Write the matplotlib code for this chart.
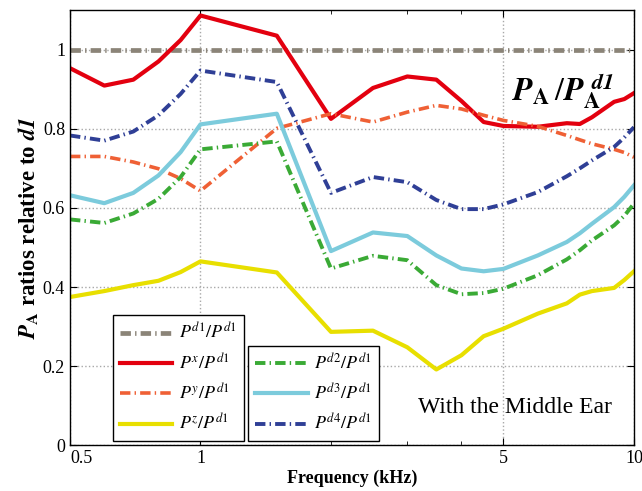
import numpy as np
import matplotlib
matplotlib.use('Agg')
import matplotlib.pyplot as plt

plt.rcParams['font.family'] = ['Liberation Serif', 'DejaVu Serif']
plt.rcParams['mathtext.fontset'] = 'stix'
plt.rcParams['lines.scale_dashes'] = False

# frecuencias en kHz
freq = [0.5, 0.6, 0.7, 0.8, 0.9, 1.0, 1.5, 2.0, 2.5, 3.0, 3.5, 4.0, 4.5, 5.0,
        6.0, 7.0, 7.5, 8.0, 9.0, 9.5, 10.0]

p_d1 = [1.0] * len(freq)
p_x = [0.953, 0.909, 0.924, 0.970, 1.024, 1.086, 1.035, 0.825, 0.903, 0.932, 0.924,
       0.870, 0.817, 0.807, 0.805, 0.814, 0.812, 0.829, 0.868, 0.875, 0.890]
p_y = [0.730, 0.730, 0.716, 0.699, 0.674, 0.643, 0.801, 0.838, 0.817, 0.842, 0.859,
       0.850, 0.834, 0.821, 0.806, 0.783, 0.772, 0.762, 0.748, 0.740, 0.728]
p_z = [0.375, 0.390, 0.405, 0.416, 0.438, 0.465, 0.437, 0.287, 0.290, 0.248, 0.192,
       0.228, 0.276, 0.295, 0.333, 0.359, 0.381, 0.390, 0.398, 0.418, 0.440]
p_d2 = [0.571, 0.562, 0.586, 0.623, 0.678, 0.748, 0.768, 0.447, 0.479, 0.468, 0.405,
        0.382, 0.385, 0.396, 0.430, 0.470, 0.493, 0.518, 0.556, 0.580, 0.611]
p_d3 = [0.632, 0.612, 0.638, 0.682, 0.741, 0.811, 0.838, 0.491, 0.538, 0.529, 0.480,
        0.447, 0.440, 0.446, 0.480, 0.514, 0.536, 0.560, 0.602, 0.628, 0.657]
p_d4 = [0.783, 0.770, 0.793, 0.834, 0.888, 0.947, 0.918, 0.638, 0.678, 0.665, 0.620,
        0.597, 0.597, 0.609, 0.640, 0.680, 0.700, 0.720, 0.754, 0.778, 0.804]

labels = [r'$P^{\mathit{d1}}/P^{\mathit{d1}}$', r'$P^{x}/P^{\mathit{d1}}$',
          r'$P^{y}/P^{\mathit{d1}}$', r'$P^{z}/P^{\mathit{d1}}$',
          r'$P^{\mathit{d2}}/P^{\mathit{d1}}$', r'$P^{\mathit{d3}}/P^{\mathit{d1}}$',
          r'$P^{\mathit{d4}}/P^{\mathit{d1}}$']

dashdot = (0, (7.5, 3.0, 1.0, 3.0))

fig = plt.figure(figsize=(6.42, 4.91), dpi=100)
ax = fig.add_axes([0.109, 0.0927, 0.8785, 0.887])

lineas = []
lineas += ax.plot(freq, p_d1, color='#8b8478', lw=3.4, ls=dashdot, label=labels[0])
lineas += ax.plot(freq, p_x, color='#e3000f', lw=3.0, label=labels[1])
lineas += ax.plot(freq, p_y, color='#ef6035', lw=2.6, ls=dashdot, label=labels[2])
lineas += ax.plot(freq, p_z, color='#e8df00', lw=3.0, label=labels[3])
lineas += ax.plot(freq, p_d2, color='#3aaa35', lw=2.8, ls=dashdot, label=labels[4])
lineas += ax.plot(freq, p_d3, color='#7ccbdc', lw=3.0, label=labels[5])
lineas += ax.plot(freq, p_d4, color='#2f3f96', lw=2.8, ls=dashdot, label=labels[6])

ax.set_xscale('log')
ax.set_xlim(0.5, 10)
ax.set_ylim(0, 1.1)
ax.set_xticks([0.5, 1, 5, 10])
ax.set_xticklabels(['0.5', '1', '5', '10'])
ax.set_xticks([2, 3, 4], minor=True)
ax.set_xticklabels([], minor=True)
ax.get_xticklabels()[0].set_ha('left')
ax.set_yticks([0, 0.2, 0.4, 0.6, 0.8, 1.0])
ax.set_yticklabels(['0', '0.2', '0.4', '0.6', '0.8', '1'])
ax.tick_params(which='both', direction='in', top=True, right=True, labelsize=13)
ax.tick_params(which='major', length=5)
ax.tick_params(which='minor', length=3)
ax.grid(True, which='major', ls=':', color='#a8a8a8', lw=1.0)
for s in ax.spines.values():
    s.set_linewidth(1.0)

ax.set_xlabel('Frequency (kHz)', fontsize=13, fontweight='bold', labelpad=2)
ax.set_ylabel(r'$\mathbfit{P}_{\mathbf{A}}$ ratios relative to $\mathbfit{d1}$',
              fontsize=16.5, fontweight='bold', labelpad=2)

ax.text(6.85, 0.895,
        r'$\mathbfit{P}_{\mathbf{A}}\,/\mathbfit{P}_{\mathbf{A}}^{\enspace\mathbfit{d1}}$',
        fontsize=23, ha='center', va='center')
ax.text(5.3, 0.095, 'With the Middle Ear', fontsize=17, ha='center', va='center')

leg_kw = dict(loc='lower left', borderaxespad=0, fontsize=13, handlelength=2.9,
              handletextpad=0.35, fancybox=False, framealpha=1, edgecolor='black',
              labelspacing=0.55)
leg1 = ax.legend(handles=lineas[:4], bbox_to_anchor=(0.076, 0.010), **leg_kw)
leg1.get_frame().set_linewidth(1.0)
ax.add_artist(leg1)
leg2 = ax.legend(handles=lineas[4:], bbox_to_anchor=(0.316, 0.010), **leg_kw)
leg2.get_frame().set_linewidth(1.0)

fig.savefig('out.png', dpi=100)
